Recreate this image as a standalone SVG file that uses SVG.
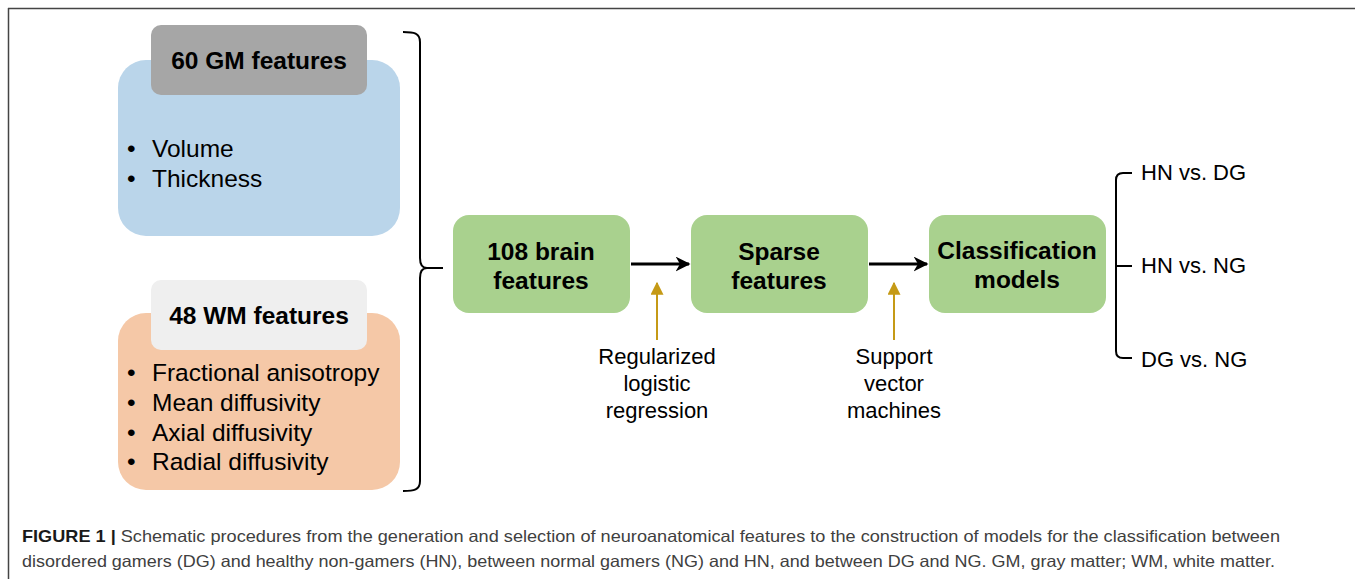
<svg xmlns="http://www.w3.org/2000/svg" width="1355" height="579" viewBox="0 0 1355 579">
  <style>
    text { font-family: "Liberation Sans", Arial, sans-serif; fill: #000; }
    .hdr { font-size: 24.5px; font-weight: bold; text-anchor: middle; }
    .bul { font-size: 24.5px; }
    .node { font-size: 24.5px; font-weight: bold; text-anchor: middle; }
    .lbl { font-size: 22px; text-anchor: middle; }
    .out { font-size: 22px; }
    .cap { font-size: 16.5px; fill: #404040; }
    .capb { font-weight: bold; fill: #1a1a1a; }
    .green { fill: #a9d18e; }
    .brace { fill: none; stroke: #000; stroke-width: 2; }
    .flow { stroke: #000; stroke-width: 3; fill: none; }
    .gold { stroke: #c59a16; stroke-width: 2; fill: none; }
  </style>
  <defs>
    <marker id="ahBlack" viewBox="0 0 10 10" refX="9" refY="5" markerWidth="5" markerHeight="5" orient="auto" markerUnits="strokeWidth">
      <path d="M0,0 L10,5 L0,10 L3,5 z" fill="#000"/>
    </marker>
    <marker id="ahGold" viewBox="0 0 10 10" refX="9" refY="5" markerWidth="6.5" markerHeight="6.5" orient="auto" markerUnits="strokeWidth">
      <path d="M0,0 L10,5 L0,10 z" fill="#c59a16"/>
    </marker>
  </defs>

  <!-- frame -->
  <g id="frame">
    <line x1="8" y1="8.5" x2="1355" y2="8.5" stroke="#444" stroke-width="1.5"/>
    <line x1="8.5" y1="8" x2="8.5" y2="579" stroke="#444" stroke-width="1.5"/>
  </g>

  <!-- GM node -->
  <g id="gm">
    <rect x="118" y="60" width="282" height="176" rx="28" fill="#bad5ea"/>
    <rect x="151" y="25" width="216" height="70" rx="10" fill="#a6a6a6"/>
    <text class="hdr" x="259" y="69">60 GM features</text>
    <text class="bul" x="127" y="157">•</text>
    <text class="bul" x="152" y="157">Volume</text>
    <text class="bul" x="127" y="187">•</text>
    <text class="bul" x="152" y="187">Thickness</text>
  </g>

  <!-- WM node -->
  <g id="wm">
    <rect x="118" y="313" width="282" height="177" rx="28" fill="#f5c8a7"/>
    <rect x="151" y="280" width="216" height="70" rx="10" fill="#efefef"/>
    <text class="hdr" x="259" y="324">48 WM features</text>
    <text class="bul" x="127" y="381">•</text>
    <text class="bul" x="152" y="381">Fractional anisotropy</text>
    <text class="bul" x="127" y="411">•</text>
    <text class="bul" x="152" y="411">Mean diffusivity</text>
    <text class="bul" x="127" y="441">•</text>
    <text class="bul" x="152" y="441">Axial diffusivity</text>
    <text class="bul" x="127" y="470">•</text>
    <text class="bul" x="152" y="470">Radial diffusivity</text>
  </g>

  <!-- brain features node -->
  <g id="brain">
    <rect class="green" x="453" y="215" width="177" height="98" rx="16"/>
    <text class="node" x="541" y="260">108 brain</text>
    <text class="node" x="541" y="289">features</text>
  </g>

  <!-- sparse features node -->
  <g id="sparse">
    <rect class="green" x="691" y="215" width="177" height="98" rx="16"/>
    <text class="node" x="779" y="260">Sparse</text>
    <text class="node" x="779" y="289">features</text>
  </g>

  <!-- classification node -->
  <g id="classif">
    <rect class="green" x="929" y="215" width="177" height="98" rx="16"/>
    <text class="node" x="1017" y="259">Classification</text>
    <text class="node" x="1017" y="288">models</text>
  </g>

  <!-- method labels -->
  <g id="label-rlr">
    <text class="lbl" x="657" y="364">Regularized</text>
    <text class="lbl" x="657" y="391">logistic</text>
    <text class="lbl" x="657" y="418">regression</text>
  </g>
  <g id="label-svm">
    <text class="lbl" x="894" y="364">Support</text>
    <text class="lbl" x="894" y="391">vector</text>
    <text class="lbl" x="894" y="418">machines</text>
  </g>

  <!-- outcomes -->
  <g id="outcomes">
    <text class="out" x="1141" y="180">HN vs. DG</text>
    <text class="out" x="1141" y="273">HN vs. NG</text>
    <text class="out" x="1141" y="367">DG vs. NG</text>
  </g>

  <!-- connectors -->
  <g id="connectors">
    <path class="brace" d="M403,32 C414,32 420,33 420,42 L420,258 C420,265 422,268 427,268 L443,268 M427,268 C422,268 420,271 420,278 L420,481 C420,490 414,491 403,491"/>
    <line class="flow" x1="631" y1="264" x2="689" y2="264" marker-end="url(#ahBlack)"/>
    <line class="flow" x1="869" y1="264" x2="927" y2="264" marker-end="url(#ahBlack)"/>
    <line class="gold" x1="657" y1="340" x2="657" y2="283" marker-end="url(#ahGold)"/>
    <line class="gold" x1="894" y1="340" x2="894" y2="283" marker-end="url(#ahGold)"/>
    <path class="brace" d="M1132,173 L1123,173 Q1116,173 1116,180 L1116,351 Q1116,358 1123,358 L1132,358 M1116,266 L1132,266"/>
  </g>

  <!-- caption -->
  <g id="caption">
    <text class="cap" x="22" y="542" textLength="1258" lengthAdjust="spacingAndGlyphs"><tspan class="capb">FIGURE 1 |</tspan> Schematic procedures from the generation and selection of neuroanatomical features to the construction of models for the classification between</text>
    <text class="cap" x="22" y="567" textLength="1253" lengthAdjust="spacingAndGlyphs">disordered gamers (DG) and healthy non-gamers (HN), between normal gamers (NG) and HN, and between DG and NG. GM, gray matter; WM, white matter.</text>
  </g>
</svg>
